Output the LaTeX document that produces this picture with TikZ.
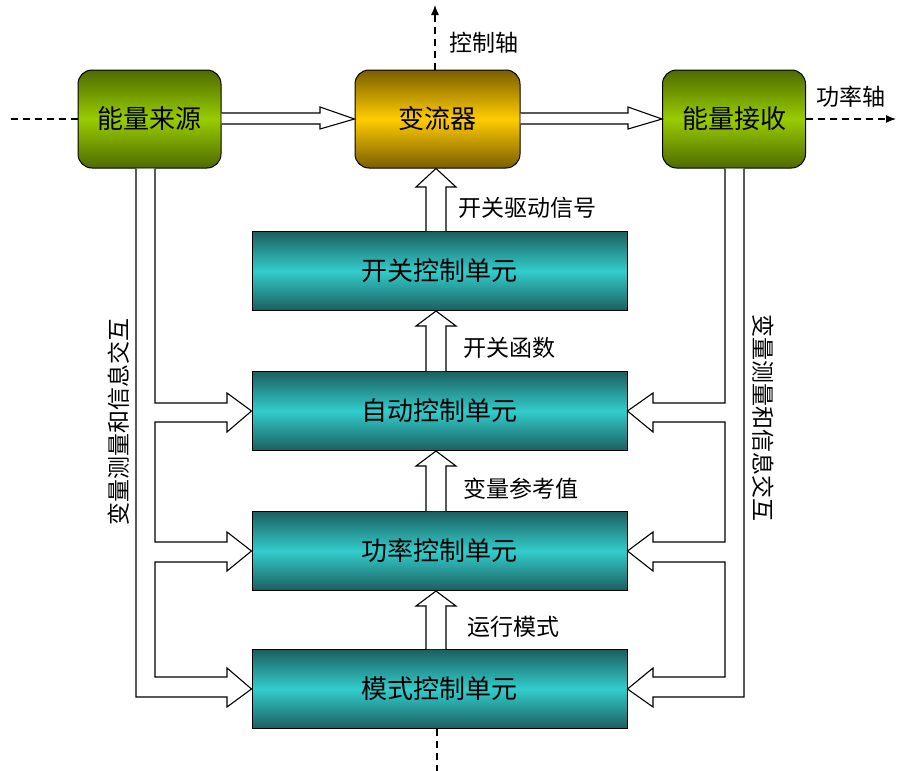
\documentclass[tikz,border=0pt]{standalone}
\usepackage{fontspec}
\setmainfont{Noto Sans CJK SC}
\usetikzlibrary{arrows.meta,calc}
\definecolor{gdark}{HTML}{4F6A00}
\definecolor{glight}{HTML}{99CC00}
\definecolor{odark}{HTML}{7A5E00}
\definecolor{olight}{HTML}{FFCC00}
\definecolor{tdark}{HTML}{1C5F5F}
\definecolor{tlight}{HTML}{33CCCC}
\begin{document}
\begin{tikzpicture}[x=1pt,y=-1pt,
  rbox/.style={draw=black, line width=1pt, rounded corners=14pt, minimum width=#1, minimum height=98pt, inner sep=0pt, font=\fontsize{26}{26}\selectfont},
  greenbox/.style={rbox=143pt, top color=gdark, bottom color=gdark, middle color=glight},
  goldbox/.style={rbox=165pt, top color=odark, bottom color=odark, middle color=olight},
  tealbox/.style={draw=black, line width=1pt, minimum width=375pt, minimum height=79pt, inner sep=0pt, top color=tdark, bottom color=tdark, middle color=tlight, font=\fontsize{26}{26}\selectfont},
  hollow/.style={draw=black, fill=white, line width=1.1pt, line join=miter},
  dashline/.style={dash pattern=on 7pt off 5pt, line width=1.2pt},
  lab/.style={font=\fontsize{23}{23}\selectfont, inner sep=0pt}]
\useasboundingbox (0,0) rectangle (897,771);

% boxes
\node[greenbox] (src) at (149.5,119) {能量来源};
\node[goldbox] (conv) at (437.5,119) {变流器};
\node[greenbox] (sink) at (734,119) {能量接收};
\node[tealbox] (sw) at (439.5,271) {开关控制单元};
\node[tealbox] (auto) at (439.5,411) {自动控制单元};
\node[tealbox] (pow) at (439.5,551) {功率控制单元};
\node[tealbox] (mode) at (439.5,689) {模式控制单元};

% free ends of the axes
\coordinate (leftend) at (10,119);
\coordinate (rightend) at (896,119);
\coordinate (topend) at (435,5);
\coordinate (botend) at (437,771);

% axes
\draw[dashline] (src.west) -- (leftend);
\draw[dashline,-{Latex[length=10pt,width=8pt]}] (sink.east) -- (rightend);
\draw[dashline,-{Latex[length=10pt,width=8pt]}] (conv.north -| topend) -- (topend);
\draw[dashline] (mode.south -| botend) -- (botend);

% top hollow arrows
\draw[hollow] (src.east |- 0,113) -- (320,113) -- (320,107) -- (conv.west) -- (320,129) -- (320,124) -- (src.east |- 0,124);
\draw[hollow] (conv.east |- 0,113) -- (628,113) -- (628,107) -- (sink.west) -- (628,129) -- (628,124) -- (conv.east |- 0,124);

% vertical hollow arrows
\draw[hollow] (sw.north -| 426,0) -- (426,187) -- (416,187) -- (conv.south -| 436,0) -- (456,187) -- (446,187) -- (sw.north -| 446,0);
\draw[hollow] (auto.north -| 426,0) -- (426,326) -- (416,326) -- (sw.south -| 436,0) -- (456,326) -- (446,326) -- (auto.north -| 446,0);
\draw[hollow] (pow.north -| 426,0) -- (426,466) -- (416,466) -- (auto.south -| 436,0) -- (456,466) -- (446,466) -- (pow.north -| 446,0);
\draw[hollow] (mode.north -| 426,0) -- (426,606) -- (416,606) -- (pow.south -| 436,0) -- (456,606) -- (446,606) -- (mode.north -| 446,0);

% left bus
\draw[hollow] (src.south -| 136,0) -- (136,697) -- (227,697) -- (227,707) -- (mode.west) -- (227,668) -- (227,677) -- (155,677) -- (155,562) -- (227,562) -- (227,571) -- (pow.west) -- (227,532) -- (227,542) -- (155,542) -- (155,422) -- (227,422) -- (227,432) -- (auto.west) -- (227,393) -- (227,403) -- (155,403) -- (src.south -| 155,0);

% right bus
\draw[hollow] (sink.south -| 744,0) -- (744,697) -- (653,697) -- (653,707) -- (mode.east) -- (653,668) -- (653,677) -- (725,677) -- (725,562) -- (653,562) -- (653,571) -- (pow.east) -- (653,532) -- (653,542) -- (725,542) -- (725,422) -- (653,422) -- (653,432) -- (auto.east) -- (653,393) -- (653,403) -- (725,403) -- (sink.south -| 725,0);

% labels
\node[lab] (l1) at (484,43) {控制轴};
\node[lab] (l2) at (851,97) {功率轴};
\node[lab] (l3) at (527,208) {开关驱动信号};
\node[lab] (l4) at (509,348) {开关函数};
\node[lab] (l5) at (521,489) {变量参考值};
\node[lab] (l6) at (513,627) {运行模式};
\node[lab, rotate=90] (l7) at (119,422) {变量测量和信息交互};
\node[lab, rotate=-90] (l8) at (763,418) {变量测量和信息交互};
\end{tikzpicture}
\end{document}
